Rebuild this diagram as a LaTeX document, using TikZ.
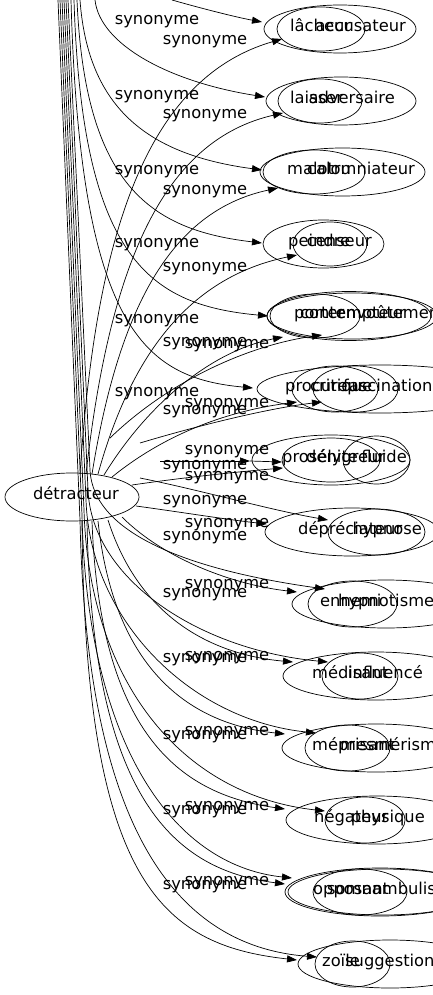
\documentclass[tikz,border=0pt]{standalone}
\usepackage{fontspec}
\setmainfont{DejaVu Sans}
\usetikzlibrary{shapes.geometric,arrows.meta}
\begin{document}
\begin{tikzpicture}[x=1pt,y=-1pt,
  ell/.style={draw, ellipse, inner sep=0pt, line width=0.7pt},
  word/.style={inner sep=0pt, font=\fontsize{16.3}{19}\selectfont},
  lab/.style={inner sep=0pt, anchor=mid, font=\fontsize{16.3}{19}\selectfont},
  edge/.style={draw, line width=0.7pt, -{Triangle[length=10pt,width=7pt]}},
  plainedge/.style={draw, line width=0.7pt}]
\useasboundingbox (0,0) rectangle (433,995);
\clip (0,0) rectangle (433,995);

% source node
\node[ell, minimum width=134pt, minimum height=48pt] (det) at (72,497) {};
\node[word, anchor=mid] (dett) at (76,497) {détracteur};

% ellipses
\node[ell, minimum width=152pt, minimum height=48pt] (e1a) at (340,29) {};
\node[ell, minimum width=88pt, minimum height=44pt] (e1b) at (321,29) {};
\node[ell, minimum width=150pt, minimum height=48pt] (e2a) at (341,101) {};
\node[ell, minimum width=84pt, minimum height=44pt] (e2b) at (320,101) {};
\node[ell, minimum width=165pt, minimum height=48pt] (e3a) at (342.5,172) {};
\node[ell, minimum width=102pt, minimum height=44pt] (e3b) at (314,172) {};
\node[ell, minimum width=121pt, minimum height=48pt] (e4a) at (323.5,244) {};
\node[ell, minimum width=74pt, minimum height=44pt] (e4b) at (330,244) {};
\node[ell, minimum width=164pt, minimum height=49pt] (e5a) at (349,316) {};
\node[ell, minimum width=90pt, minimum height=44pt] (e5b) at (315,316) {};
\node[ell, minimum width=170pt, minimum height=46pt] (e5c) at (352,316) {};
\node[ell, minimum width=246pt, minimum height=48pt] (e6a) at (380,389) {};
\node[ell, minimum width=86pt, minimum height=46pt] (e6b) at (335,389) {};
\node[ell, minimum width=85pt, minimum height=46pt] (e6c) at (355.5,389) {};
\node[ell, minimum width=158pt, minimum height=50pt] (e7a) at (331,460) {};
\node[ell, minimum width=98pt, minimum height=44pt] (e7b) at (331,460) {};
\node[ell, minimum width=67pt, minimum height=48pt] (e7c) at (376.5,460) {};
\node[ell, minimum width=174pt, minimum height=48pt] (e8a) at (352,532) {};
\node[ell, minimum width=97pt, minimum height=46pt] (e8b) at (376.5,532) {};
\node[ell, minimum width=188pt, minimum height=48pt] (e9a) at (386,604) {};
\node[ell, minimum width=89pt, minimum height=46pt] (e9b) at (352.5,604) {};
\node[ell, minimum width=186pt, minimum height=48pt] (e10a) at (376,676) {};
\node[ell, minimum width=76pt, minimum height=46pt] (e10b) at (360,676) {};
\node[ell, minimum width=188pt, minimum height=48pt] (e11a) at (376,748) {};
\node[ell, minimum width=85pt, minimum height=46pt] (e11b) at (347.5,748) {};
\node[ell, minimum width=182pt, minimum height=48pt] (e12a) at (377,820) {};
\node[ell, minimum width=80pt, minimum height=46pt] (e12b) at (365,820) {};
\node[ell, minimum width=190pt, minimum height=48pt] (e13a) at (380,892) {};
\node[ell, minimum width=190pt, minimum height=46pt] (e13c) at (383,892) {};
\node[ell, minimum width=94pt, minimum height=46pt] (e13b) at (360,892) {};
\node[ell, minimum width=184pt, minimum height=48pt] (e14a) at (390,964) {};
\node[ell, minimum width=75pt, minimum height=46pt] (e14b) at (352.5,964) {};

% words
\node[word, anchor=mid west] (w1a) at (290,29) {lâcheur};
\node[word, anchor=mid east] (w1b) at (406,29) {accusateur};
\node[word, anchor=mid west] (w2a) at (290,101) {laisser};
\node[word, anchor=mid east] (w2b) at (395,101) {adversaire};
\node[word, anchor=mid west] (w3a) at (287,172) {malotru};
\node[word, anchor=mid east] (w3b) at (415,172) {calomniateur};
\node[word, anchor=mid west] (w4a) at (288,244) {peindre};
\node[word, anchor=mid east] (w4b) at (372,244) {censeur};
\node[word, anchor=mid west] (w5a) at (294,316) {porter};
\node[word, anchor=mid west] (w5b) at (300,316) {contempteur};
\node[word, anchor=mid west] (w5c) at (336,316) {envoûtement};
\node[word, anchor=mid west] (w6a) at (285,389) {procureur};
\node[word, anchor=mid west] (w6b) at (310,389) {critique};
\node[word, anchor=mid west] (w6c) at (343,389) {fascination};
\node[word, anchor=mid west] (w7a) at (282,460) {prosélyte};
\node[word, anchor=mid west] (w7b) at (306,460) {dénigreur};
\node[word, anchor=mid east] (w7c) at (407,460) {fluide};
\node[word, anchor=mid west] (w8a) at (298,532) {dépréciateur};
\node[word, anchor=mid east] (w8b) at (422,532) {hypnose};
\node[word, anchor=mid west] (w9a) at (320,604) {ennemi};
\node[word, anchor=mid west] (w9b) at (338,604) {hypnotisme};
\node[word, anchor=mid west] (w10a) at (312,676) {médisant};
\node[word, anchor=mid east] (w10b) at (423,676) {influencé};
\node[word, anchor=mid west] (w11a) at (312,748) {méprisant};
\node[word, anchor=mid west] (w11b) at (340,748) {mesmérisme};
\node[word, anchor=mid west] (w12a) at (314,820) {négateur};
\node[word, anchor=mid east] (w12b) at (425,820) {physique};
\node[word, anchor=mid west] (w13a) at (313,892) {opposant};
\node[word, anchor=mid west] (w13b) at (327,892) {somnambulisme};
\node[word, anchor=mid west] (w14a) at (322,964) {zoïle};
\node[word, anchor=mid west] (w14b) at (345,964) {suggestion};

% edge labels
\foreach \n/\x/\y in {a1/157/22, a2/157/97, a3/157/172, a4/157/245, a5/157/321, a6/157/394,
  b1/205/42, b2/205/116, b3/205/192, b4/205/269, b5/205/344, b6/205/412, b7/205/467,
  b8/205/502, b9/205/538, b10/205/595, b11/205/660, b12/205/737, b13/205/812, b14/205/887,
  c1/227/346, c2/227/405, c3/227/452, c4/227/478, c5/227/525, c6/227/586, c7/227/658,
  c8/227/733, c9/227/808, c10/227/883}
  \node[lab] (l\n) at (\x,\y) {synonyme};

% coordinates: starts and tips
\coordinate (gs1) at (172,0);  \coordinate (gt1) at (262,22);
\coordinate (gs2) at (95,0);   \coordinate (gt2) at (265,97);
\coordinate (gs3) at (80,0);   \coordinate (gt3) at (262,170);
\coordinate (gs4) at (77,0);   \coordinate (gt4) at (262,243);
\coordinate (gs5) at (74,0);   \coordinate (gt5) at (268,316);
\coordinate (gs6) at (71,0);   \coordinate (gt6) at (253,388);
\coordinate (gs7) at (160,461); \coordinate (gt7) at (250,461);

\coordinate (ds1) at (80,474);  \coordinate (dt1) at (282,39);
\coordinate (ds2) at (86,474);  \coordinate (dt2) at (283,113);
\coordinate (ds3) at (92,474);  \coordinate (dt3) at (278,188);
\coordinate (ds4) at (98,474);  \coordinate (dt4) at (297,255);
\coordinate (ds5) at (104,475); \coordinate (dt5) at (283,337);
\coordinate (ds6) at (112,477); \coordinate (dt6) at (297,402);
\coordinate (ds7) at (132,485); \coordinate (dt7) at (283,468);
\coordinate (ds8) at (136,506); \coordinate (dt8) at (267,524);
\coordinate (ds9) at (122,517); \coordinate (dt9) at (297,592);
\coordinate (ds10) at (108,520); \coordinate (dt10) at (293,662);
\coordinate (ds11) at (98,521);  \coordinate (dt11) at (285,734);
\coordinate (ds12) at (92,521);  \coordinate (dt12) at (285,809);
\coordinate (ds13) at (87,521);  \coordinate (dt13) at (285,884);
\coordinate (ds14) at (82,521);  \coordinate (dt14) at (297,960);

\coordinate (hs5) at (110,438); \coordinate (ht5) at (322,335);
\coordinate (hs6) at (140,443); \coordinate (ht6) at (322,402);
\coordinate (ht7) at (282,462);
\coordinate (hs8) at (140,478); \coordinate (ht8) at (328,520);
\coordinate (hs9) at (68,0);  \coordinate (hm9) at (90,470);  \coordinate (ht9) at (325,589);
\coordinate (hs10) at (66,0); \coordinate (hm10) at (88,490); \coordinate (ht10) at (328,662);
\coordinate (hs11) at (64,0); \coordinate (hm11) at (86,500); \coordinate (ht11) at (316,733);
\coordinate (hs12) at (62,0); \coordinate (hm12) at (84,510); \coordinate (ht12) at (325,811);
\coordinate (hs13) at (60,0); \coordinate (hm13) at (82,515); \coordinate (ht13) at (292,878);
\coordinate (hs14) at (58,0); \coordinate (hm14) at (80,520); \coordinate (ht14) at (317,957);

% edges from above
\draw[edge] (gs1) .. controls (200,8) and (235,17) .. (gt1);
\draw[edge] (gs2) .. controls (100,45) and (170,82) .. (gt2);
\draw[edge] (gs3) .. controls (88,110) and (150,155) .. (gt3);
\draw[edge] (gs4) .. controls (85,185) and (150,230) .. (gt4);
\draw[edge] (gs5) .. controls (82,260) and (150,305) .. (gt5);
\draw[edge] (gs6) .. controls (80,330) and (145,378) .. (gt6);
\draw[edge] (gs7) -- (gt7);

% edges from détracteur
\draw[edge] (ds1) .. controls (95,250) and (140,80) .. (dt1);
\draw[edge] (ds2) .. controls (110,260) and (165,140) .. (dt2);
\draw[edge] (ds3) .. controls (120,300) and (175,210) .. (dt3);
\draw[edge] (ds4) .. controls (135,340) and (200,275) .. (dt4);
\draw[edge] (ds5) .. controls (150,400) and (215,350) .. (dt5);
\draw[edge] (ds6) .. controls (170,430) and (235,410) .. (dt6);
\draw[edge] (ds7) .. controls (180,478) and (235,472) .. (dt7);
\draw[edge] (ds8) .. controls (180,512) and (230,520) .. (dt8);
\draw[edge] (ds9) .. controls (165,560) and (235,585) .. (dt9);
\draw[edge] (ds10) .. controls (140,620) and (215,655) .. (dt10);
\draw[edge] (ds11) .. controls (115,680) and (200,725) .. (dt11);
\draw[edge] (ds12) .. controls (100,740) and (185,795) .. (dt12);
\draw[edge] (ds13) .. controls (92,800) and (175,870) .. (dt13);
\draw[edge] (ds14) .. controls (85,880) and (160,945) .. (dt14);

% third set
\draw[edge] (hs5) .. controls (170,380) and (250,345) .. (ht5);
\draw[edge] (hs6) .. controls (200,425) and (270,408) .. (ht6);
\draw[edge] (gt7) -- (ht7);
\draw[edge] (hs8) .. controls (200,490) and (270,510) .. (ht8);
\draw[edge] (hs9) -- (hm9) .. controls (93,534) and (190,570) .. (ht9);
\draw[edge] (hs10) -- (hm10) .. controls (92,580) and (200,650) .. (ht10);
\draw[edge] (hs11) -- (hm11) .. controls (90,620) and (190,720) .. (ht11);
\draw[edge] (hs12) -- (hm12) .. controls (89,680) and (180,795) .. (ht12);
\draw[edge] (hs13) -- (hm13) .. controls (87,740) and (170,865) .. (ht13);
\draw[edge] (hs14) -- (hm14) .. controls (86,800) and (160,945) .. (ht14);
\end{tikzpicture}
\end{document}
